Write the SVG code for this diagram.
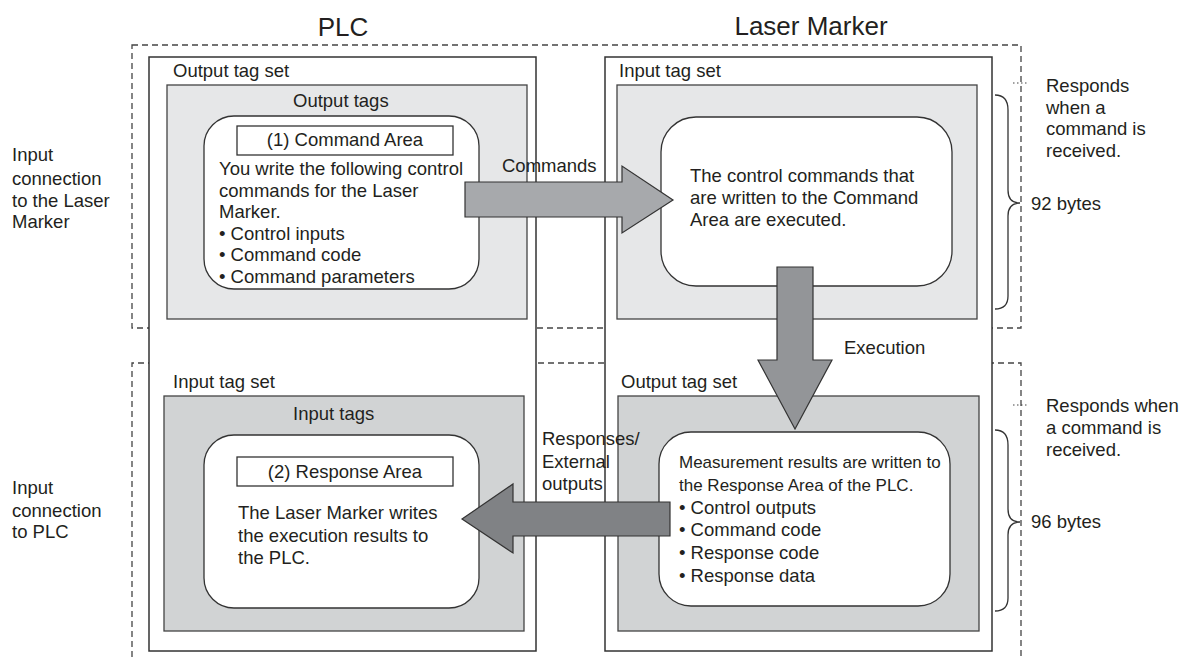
<svg xmlns="http://www.w3.org/2000/svg" width="1181" height="657" viewBox="0 0 1181 657">
<style>
text{font-family:"Liberation Sans",Arial,sans-serif;fill:#231f20}
.t{font-size:18.5px}
.s{font-size:17px}
.h{font-size:26px;text-anchor:middle}
.c{text-anchor:middle}
.dash{fill:none;stroke:#444;stroke-width:1.3;stroke-dasharray:6,4}
.dev{fill:#fff;stroke:#333;stroke-width:1.5}
.g1{fill:#e6e7e8;stroke:#444;stroke-width:1.3}
.g2{fill:#d1d3d4;stroke:#444;stroke-width:1.3}
.rr{fill:#fff;stroke:#333;stroke-width:1.3}
.box{fill:#fff;stroke:#333;stroke-width:1.3}
.brace{fill:none;stroke:#333;stroke-width:1.3}
.arr{stroke:#333;stroke-width:1.2;stroke-linejoin:miter}
.lead{stroke:#444;stroke-width:1.2;stroke-dasharray:1.5,2.5}
</style>
<rect width="1181" height="657" fill="#fff"/>

<g id="titles">
<text class="h" x="343" y="36">PLC</text>
<text class="h" x="811" y="35">Laser Marker</text>
</g>

<g id="connection-regions">
<rect class="dash" x="132" y="45" width="889" height="283"/>
<path class="dash" d="M132,657 V363 H1021 V657"/>
</g>

<g id="plc">
<rect class="dev" x="149" y="57" width="387" height="594"/>
</g>
<g id="laser-marker">
<rect class="dev" x="605" y="57" width="387" height="594"/>
</g>

<g id="plc-output-tag-set">
<text class="t" x="173" y="77">Output tag set</text>
<rect class="g1" x="167" y="85" width="360" height="234"/>
<text class="t" x="293" y="107">Output tags</text>
<rect class="rr" x="204" y="116" width="275" height="173" rx="30"/>
<rect class="box" x="237" y="126" width="216" height="29"/>
<text class="t c" x="345" y="146">(1) Command Area</text>
<text class="t" x="219" y="175">You write the following control</text>
<text class="t" x="219" y="197">commands for the Laser</text>
<text class="t" x="219" y="218">Marker.</text>
<text class="t" x="219" y="240">• Control inputs</text>
<text class="t" x="219" y="261">• Command code</text>
<text class="t" x="219" y="283">• Command parameters</text>
</g>

<g id="lm-input-tag-set">
<text class="t" x="619" y="77">Input tag set</text>
<rect class="g1" x="617" y="85" width="360" height="234"/>
<rect class="rr" x="661" y="117" width="291" height="169" rx="35"/>
<text class="t" x="690" y="182">The control commands that</text>
<text class="t" x="690" y="204">are written to the Command</text>
<text class="t" x="690" y="226">Area are executed.</text>
</g>

<g id="plc-input-tag-set">
<text class="t" x="173" y="388">Input tag set</text>
<rect class="g2" x="164" y="396" width="360" height="235"/>
<text class="t" x="293" y="420">Input tags</text>
<rect class="rr" x="204" y="435" width="275" height="173" rx="30"/>
<rect class="box" x="237" y="457" width="216" height="29"/>
<text class="t c" x="345" y="478">(2) Response Area</text>
<text class="t" x="238" y="519">The Laser Marker writes</text>
<text class="t" x="238" y="542">the execution results to</text>
<text class="t" x="238" y="564">the PLC.</text>
</g>

<g id="lm-output-tag-set">
<text class="t" x="621" y="388">Output tag set</text>
<rect class="g2" x="618" y="396" width="361" height="235"/>
<rect class="rr" x="659" y="432" width="291" height="174" rx="32"/>
<text class="s" x="679" y="468">Measurement results are written to</text>
<text class="s" x="679" y="491">the Response Area of the PLC.</text>
<text class="t" x="679" y="514">• Control outputs</text>
<text class="t" x="679" y="536">• Command code</text>
<text class="t" x="679" y="559">• Response code</text>
<text class="t" x="679" y="582">• Response data</text>
</g>

<g id="side-labels">
<text class="t" x="12" y="161">Input</text>
<text class="t" x="12" y="185">connection</text>
<text class="t" x="12" y="207">to the Laser</text>
<text class="t" x="12" y="228">Marker</text>
<text class="t" x="12" y="494">Input</text>
<text class="t" x="12" y="517">connection</text>
<text class="t" x="12" y="538">to PLC</text>
<text class="t" x="1046" y="92">Responds</text>
<text class="t" x="1046" y="114">when a</text>
<text class="t" x="1046" y="135">command is</text>
<text class="t" x="1046" y="157">received.</text>
<text class="t" x="1031" y="210">92 bytes</text>
<text class="t" x="1046" y="412">Responds when</text>
<text class="t" x="1046" y="434">a command is</text>
<text class="t" x="1046" y="456">received.</text>
<text class="t" x="1031" y="528">96 bytes</text>
<line class="lead" x1="1013" y1="83" x2="1029" y2="83"/>
<line class="lead" x1="1013" y1="405" x2="1029" y2="405"/>
<path class="brace" d="M995,95 C1004,95 1008,100 1008,110 V190 C1008,198 1012,203 1020,203 C1012,203 1008,208 1008,216 V296 C1008,305 1004,309 995,309"/>
<path class="brace" d="M995,430 C1004,430 1008,435 1008,445 V509 C1008,517 1012,522 1020,522 C1012,522 1008,527 1008,535 V598 C1008,607 1004,611 995,611"/>
</g>

<g id="connectors">
<path class="arr" fill="#a7a9ac" d="M465,182 H622 V166 L673,200 L622,233 V217 H465 Z"/>
<text class="t" x="502" y="172">Commands</text>
<path class="arr" fill="#939598" d="M777,267 H813 V360 H832 L795,429 L758,360 H777 Z"/>
<text class="t" x="844" y="354">Execution</text>
<path class="arr" fill="#808285" d="M670,502 H513 V484 L462,519 L513,553 V536 H670 Z"/>
<text class="t" x="542" y="445">Responses/</text>
<text class="t" x="542" y="468">External</text>
<text class="t" x="542" y="490">outputs</text>
</g>
</svg>
